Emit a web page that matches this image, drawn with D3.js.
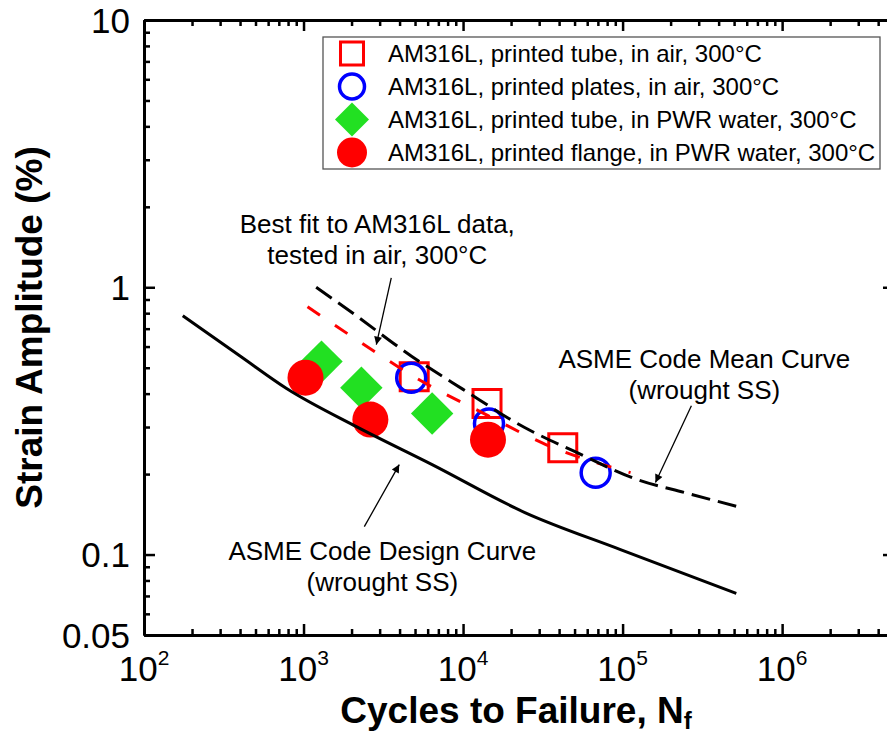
<!doctype html>
<html>

<head>
  <meta charset="utf-8">
  <title>Strain amplitude vs cycles to failure</title>
  <script src="https://d3js.org/d3.v7.min.js"></script>
  <style>
    body { margin: 0; background: #ffffff; }
    text { font-family: "Liberation Sans", Arial, sans-serif; fill: #000; }
  </style>
</head>

<body>
  <div id="chart"></div>

  <script>

    // ---- data (cycles, strain amplitude %) ----

    // AM316L, printed tube, in air, 300°C
    var tubeAirN = [4940, 14130, 42170];
    var tubeAirStrain = [0.463, 0.367, 0.251];

    // AM316L, printed plates, in air, 300°C
    var platesAirN = [4730, 14540, 67800];
    var platesAirStrain = [0.459, 0.309, 0.2025];

    // AM316L, printed tube, in PWR water, 300°C
    var tubePwrN = [1296, 2304, 6400];
    var tubePwrStrain = [0.527, 0.421, 0.337];

    // AM316L, printed flange, in PWR water, 300°C
    var flangePwrN = [1029, 2624, 14330];
    var flangePwrStrain = [0.459, 0.320, 0.269];

    // ASME code mean curve (wrought SS)
    var meanCurveN = [1200, 2000, 4800, 10000, 24000, 50000, 126000, 250000, 550000];
    var meanCurveStrain = [1.0, 0.806, 0.55, 0.415, 0.30, 0.243, 0.19, 0.17, 0.15];

    // ASME code design curve (wrought SS)
    var designCurveN = [175, 400, 783, 2143, 6400, 24400, 97000, 516000];
    var designCurveStrain = [0.782, 0.553, 0.418, 0.301, 0.217, 0.1436, 0.1044, 0.0715];

    // best fit to AM316L air data
    var bestFitN = [1059, 2860, 4800, 14330, 33030, 112200];
    var bestFitStrain = [0.846, 0.569, 0.467, 0.331, 0.258, 0.2025];

    var legendLabels = [
      "AM316L, printed tube, in air, 300°C",
      "AM316L, printed plates, in air, 300°C",
      "AM316L, printed tube, in PWR water, 300°C",
      "AM316L, printed flange, in PWR water, 300°C"
    ];

    var xTickValues = [1e2, 1e3, 1e4, 1e5, 1e6];
    var xTickExponents = ["2", "3", "4", "5", "6"];
    var yTickValues = [0.05, 0.1, 1, 10];
    var yTickLabels = ["0.05", "0.1", "1", "10"];

    // ---- layout ----
    var width = 887, height = 737;
    // right frame sits just past the picture's edge
    var plot = { left: 144, right: 895, top: 20, bottom: 635 };
    var xMax = 5.1e6;

    var svg = d3.select("#chart")
      .append("svg")
      .attr("width", width)
      .attr("height", height);

    var x = d3.scaleLog()
      .domain([1e2, xMax])
      .range([plot.left, plot.right]);

    var y = d3.scaleLog()
      .domain([0.05, 10])
      .range([plot.bottom, plot.top]);

    // minor tick positions (2..9 in each decade)
    var xMinor = [];
    for (var e = 2; e <= 6; e++) {
      for (var m = 2; m <= 9; m++) {
        var v = m * Math.pow(10, e);
        if (v < xMax) xMinor.push(v);
      }
    }
    var yMinor = [];
    [0.01, 0.1, 1].forEach(function (d) {
      for (var m = 2; m <= 9; m++) {
        var v = +(m * d).toPrecision(3);
        if (v > 0.05 && v < 10) yMinor.push(v);
      }
    });

    function styleAxis(g) {
      g.select(".domain").attr("stroke-width", 3).attr("stroke", "#000");
      g.selectAll(".tick line").attr("stroke-width", 2.5).attr("stroke", "#000");
      g.selectAll(".tick text").remove();
    }

    // bottom / top axes, ticks point into the plot
    svg.append("g")
      .attr("transform", "translate(0," + plot.bottom + ")")
      .call(d3.axisBottom(x).tickValues(xMinor).tickSize(-6).tickSizeOuter(0))
      .call(styleAxis);
    svg.append("g")
      .attr("transform", "translate(0," + plot.bottom + ")")
      .call(d3.axisBottom(x).tickValues(xTickValues).tickSize(-11).tickSizeOuter(0))
      .call(styleAxis);
    svg.append("g")
      .attr("transform", "translate(0," + plot.top + ")")
      .call(d3.axisTop(x).tickValues(xMinor).tickSize(-6).tickSizeOuter(0))
      .call(styleAxis);
    svg.append("g")
      .attr("transform", "translate(0," + plot.top + ")")
      .call(d3.axisTop(x).tickValues(xTickValues).tickSize(-11).tickSizeOuter(0))
      .call(styleAxis);

    // left / right axes
    svg.append("g")
      .attr("transform", "translate(" + plot.left + ",0)")
      .call(d3.axisLeft(y).tickValues(yMinor).tickSize(-6).tickSizeOuter(0))
      .call(styleAxis);
    svg.append("g")
      .attr("transform", "translate(" + plot.left + ",0)")
      .call(d3.axisLeft(y).tickValues(yTickValues).tickSize(-11).tickSizeOuter(0))
      .call(styleAxis);
    svg.append("g")
      .attr("transform", "translate(" + plot.right + ",0)")
      .call(d3.axisRight(y).tickValues(yMinor).tickSize(-6).tickSizeOuter(0))
      .call(styleAxis);
    svg.append("g")
      .attr("transform", "translate(" + plot.right + ",0)")
      .call(d3.axisRight(y).tickValues(yTickValues).tickSize(-12).tickSizeOuter(0))
      .call(styleAxis);

    // y tick labels
    svg.selectAll(".ylabel")
      .data(yTickValues)
      .enter().append("text")
      .attr("class", "ylabel")
      .attr("x", plot.left - 14)
      .attr("y", function (d) { return y(d); })
      .attr("dy", "0.36em")
      .attr("text-anchor", "end")
      .style("font-size", "35px")
      .text(function (d, i) { return yTickLabels[i]; });

    // x tick labels: 10 with superscript exponent
    var xl = svg.selectAll(".xlabel")
      .data(xTickValues)
      .enter().append("text")
      .attr("class", "xlabel")
      .attr("x", function (d) { return x(d); })
      .attr("y", 681)
      .attr("text-anchor", "middle")
      .style("font-size", "35px");
    xl.append("tspan").text("10");
    xl.append("tspan")
      .attr("dy", -16)
      .style("font-size", "21px")
      .text(function (d, i) { return xTickExponents[i]; });

    // axis titles
    var xt = svg.append("text")
      .attr("x", (plot.left + 888) / 2)
      .attr("y", 723)
      .attr("text-anchor", "middle")
      .style("font-size", "37px")
      .style("font-weight", "bold");
    xt.append("tspan").text("Cycles to Failure, N");
    xt.append("tspan").attr("dy", 6).style("font-size", "24px").text("f");

    svg.append("text")
      .attr("transform", "translate(42," + (plot.top + plot.bottom) / 2 + ") rotate(-90)")
      .attr("text-anchor", "middle")
      .style("font-size", "37px")
      .style("font-weight", "bold")
      .text("Strain Amplitude (%)");

    // ---- markers ----
    var red = "#ff0000", blue = "#0000ff", green = "#22e022";

    function pairs(ns, ss) {
      return ns.map(function (n, i) { return [n, ss[i]]; });
    }

    var squarePath = d3.symbol().type(d3.symbolSquare).size(28 * 28);
    var diamondPath = d3.symbol().type(d3.symbolSquare).size(30 * 30);

    svg.selectAll(".sq")
      .data(pairs(tubeAirN, tubeAirStrain))
      .enter().append("path")
      .attr("d", squarePath)
      .attr("transform", function (d) { return "translate(" + x(d[0]) + "," + y(d[1]) + ")"; })
      .attr("fill", "none")
      .attr("stroke", red)
      .attr("stroke-width", 3);

    svg.selectAll(".oc")
      .data(pairs(platesAirN, platesAirStrain))
      .enter().append("circle")
      .attr("cx", function (d) { return x(d[0]); })
      .attr("cy", function (d) { return y(d[1]); })
      .attr("r", 14.5)
      .attr("fill", "none")
      .attr("stroke", blue)
      .attr("stroke-width", 3.5);

    svg.selectAll(".dm")
      .data(pairs(tubePwrN, tubePwrStrain))
      .enter().append("path")
      .attr("d", diamondPath)
      .attr("transform", function (d) { return "translate(" + x(d[0]) + "," + y(d[1]) + ") rotate(45)"; })
      .attr("fill", green);

    svg.selectAll(".fc")
      .data(pairs(flangePwrN, flangePwrStrain))
      .enter().append("circle")
      .attr("cx", function (d) { return x(d[0]); })
      .attr("cy", function (d) { return y(d[1]); })
      .attr("r", 18)
      .attr("fill", red);

    // ---- curves ----
    var line = d3.line()
      .curve(d3.curveMonotoneX)
      .x(function (d) { return x(d[0]); })
      .y(function (d) { return y(d[1]); });

    svg.append("path")
      .datum(pairs(designCurveN, designCurveStrain))
      .attr("fill", "none")
      .attr("stroke", "#000")
      .attr("stroke-width", 3)
      .attr("d", line);

    svg.append("path")
      .datum(pairs(bestFitN, bestFitStrain))
      .attr("fill", "none")
      .attr("stroke", red)
      .attr("stroke-width", 3)
      .attr("stroke-dasharray", "15,18")
      .attr("d", line);

    svg.append("path")
      .datum(pairs(meanCurveN, meanCurveStrain))
      .attr("fill", "none")
      .attr("stroke", "#000")
      .attr("stroke-width", 3)
      .attr("stroke-dasharray", "19,8")
      .attr("d", line);

    // ---- annotations ----
    svg.append("defs").append("marker")
      .attr("id", "arrow")
      .attr("viewBox", "0 0 10 10")
      .attr("refX", 10)
      .attr("refY", 5)
      .attr("markerUnits", "userSpaceOnUse")
      .attr("markerWidth", 12)
      .attr("markerHeight", 8)
      .attr("orient", "auto")
      .append("path")
      .attr("d", "M0,0 L10,5 L0,10 z")
      .attr("fill", "#000");

    // [from N, from strain, to N, to strain]
    var arrows = [
      [3548, 1.085, 2860, 0.61],
      [270000, 0.3605, 160700, 0.186],
      [2405, 0.1272, 3981, 0.217]
    ];
    svg.selectAll(".arrow")
      .data(arrows)
      .enter().append("line")
      .attr("x1", function (d) { return x(d[0]); })
      .attr("y1", function (d) { return y(d[1]); })
      .attr("x2", function (d) { return x(d[2]); })
      .attr("y2", function (d) { return y(d[3]); })
      .attr("stroke", "#000")
      .attr("stroke-width", 1.3)
      .attr("marker-end", "url(#arrow)");

    // [N, strain, line 1, line 2]
    var notes = [
      [2900, 1.6, "Best fit to AM316L data,", "tested in air, 300°C"],
      [325500, 0.5, "ASME Code Mean Curve", "(wrought SS)"],
      [3119, 0.095, "ASME Code Design Curve", "(wrought SS)"]
    ];
    notes.forEach(function (d) {
      var t = svg.append("text")
        .attr("text-anchor", "middle")
        .style("font-size", "26px");
      t.append("tspan")
        .attr("x", x(d[0]))
        .attr("y", y(d[1]))
        .text(d[2]);
      t.append("tspan")
        .attr("x", x(d[0]))
        .attr("dy", 31)
        .text(d[3]);
    });

    // ---- legend ----
    var legend = svg.append("g");
    legend.append("rect")
      .attr("x", 323)
      .attr("y", 37)
      .attr("width", 557)
      .attr("height", 132)
      .attr("fill", "#fff")
      .attr("stroke", "#555")
      .attr("stroke-width", 1.3);

    var rowY = function (i) { return 53.5 + 33 * i; };
    var mx = 352;

    legend.append("path")
      .attr("d", d3.symbol().type(d3.symbolSquare).size(23 * 23))
      .attr("transform", "translate(" + mx + "," + rowY(0) + ")")
      .attr("fill", "none")
      .attr("stroke", red)
      .attr("stroke-width", 3);
    legend.append("circle")
      .attr("cx", mx).attr("cy", rowY(1)).attr("r", 12.5)
      .attr("fill", "none")
      .attr("stroke", blue)
      .attr("stroke-width", 3.5);
    legend.append("path")
      .attr("d", d3.symbol().type(d3.symbolSquare).size(24 * 24))
      .attr("transform", "translate(" + mx + "," + rowY(2) + ") rotate(45)")
      .attr("fill", green);
    legend.append("circle")
      .attr("cx", mx).attr("cy", rowY(3)).attr("r", 15)
      .attr("fill", red);

    legend.selectAll(".ltext")
      .data(legendLabels)
      .enter().append("text")
      .attr("x", 388)
      .attr("y", function (d, i) { return rowY(i); })
      .attr("dy", "0.36em")
      .style("font-size", "24px")
      .text(function (d) { return d; });

  </script>
</body>

</html>
